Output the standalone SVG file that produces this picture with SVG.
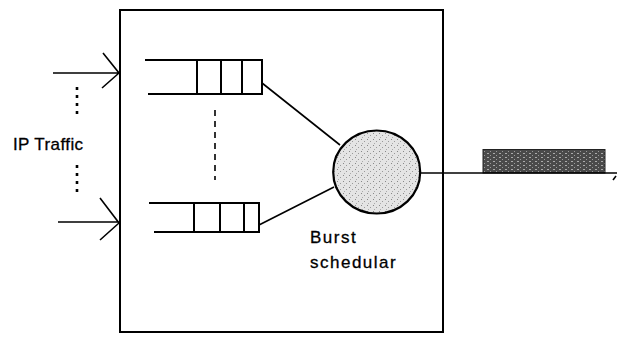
<svg xmlns="http://www.w3.org/2000/svg" width="618" height="345" viewBox="0 0 618 345">
<style>
.ln{stroke:#000;stroke-width:1.6;fill:none}
.q{stroke:#000;stroke-width:2;fill:none}
.t{font-family:"Liberation Sans",Arial,sans-serif;font-size:17px;fill:#000;stroke:#000;stroke-width:0.3}
.dot{stroke:#000;stroke-width:2.6;stroke-dasharray:3 5;fill:none}
</style>
<defs>
<pattern id="speck" width="6" height="6" patternUnits="userSpaceOnUse">
<rect width="6" height="6" fill="#e4e4e4"/>
<rect x="1" y="1" width="1" height="1" fill="#888"/>
<rect x="4" y="3" width="1" height="1" fill="#999"/>
<rect x="2" y="5" width="1" height="1" fill="#aaa"/>
</pattern>
<pattern id="dark" width="6" height="4" patternUnits="userSpaceOnUse">
<rect width="6" height="4" fill="#4a4a4a"/>
<rect x="1" y="1" width="2" height="1" fill="#aaa"/>
<rect x="4" y="3" width="1" height="1" fill="#999"/>
</pattern>
</defs>
<rect width="618" height="345" fill="#fff"/>
<g id="box"><rect x="120" y="10" width="323" height="322" class="q"/></g>
<g id="queue-top">
<path d="M145 60H262V94H148M197 60V94M221 60V94M242 60V94" class="q"/>
</g>
<g id="queue-bottom">
<path d="M149 203H259V232H154M194 203V232M220 203V232M244 203V232" class="q"/>
</g>
<g id="scheduler">
<ellipse cx="376.7" cy="172" rx="43.5" ry="41.5" fill="url(#speck)" stroke="#000" stroke-width="2.2"/>
<text class="t" x="310" y="243" letter-spacing="1.5">Burst</text>
<text class="t" x="310" y="268" letter-spacing="1.5">schedular</text>
</g>
<g id="burst"><rect x="483" y="149.5" width="122" height="23.5" fill="url(#dark)" stroke="#222" stroke-width="1"/></g>
<g id="ip-traffic">
<text class="t" x="13" y="150" letter-spacing="0.4">IP Traffic</text>
<path d="M77 87V114M77 165V197" class="dot"/>
</g>
<g id="connectors">
<path d="M53 73H120M103 53L119 73L102 88" class="ln"/>
<path d="M58 222H120M100 198L119 223L100 240" class="ln"/>
<path d="M262 83L340 145M259 225L334 187" class="ln"/>
<path d="M215 110V180" class="ln" stroke-dasharray="6 5"/>
<path d="M420 173H617" class="ln"/>
<path d="M613 180L616 176" class="ln"/>
</g>
</svg>
